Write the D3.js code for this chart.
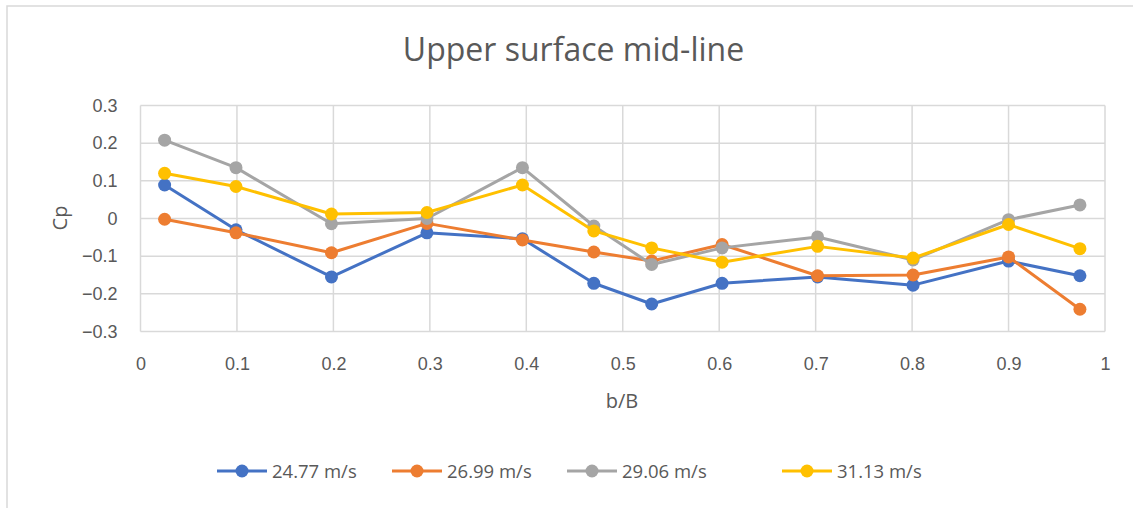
<!DOCTYPE html>
<html>
<head>
<meta charset="utf-8">
<script src="https://cdn.jsdelivr.net/npm/d3@7"></script>
<style>
  body { margin: 0; background: #fff; }
  svg { display: block; font-family: "Open Sans", "Noto Sans", sans-serif; }
  .grid line { stroke: #d9d9d9; stroke-width: 1.5; }
  .tick text { fill: #595959; font-size: 18px; }
</style>
</head>
<body>
<svg width="1133" height="508"></svg>
<script>
// chart data
let positions = [0.025, 0.099, 0.198, 0.297, 0.396, 0.47, 0.53, 0.603, 0.702, 0.801, 0.9, 0.974];
let seriesNames = ["24.77 m/s", "26.99 m/s", "29.06 m/s", "31.13 m/s"];
let seriesColors = ["#4472c4", "#ed7d31", "#a5a5a5", "#ffc000"];
let cp2477 = [0.089, -0.030, -0.155, -0.038, -0.054, -0.172, -0.227, -0.172, -0.155, -0.177, -0.113, -0.152];
let cp2699 = [-0.002, -0.038, -0.091, -0.013, -0.057, -0.089, -0.113, -0.069, -0.152, -0.150, -0.102, -0.241];
let cp2906 = [0.208, 0.135, -0.014, 0.000, 0.135, -0.020, -0.122, -0.078, -0.049, -0.110, -0.003, 0.036];
let cp3113 = [0.120, 0.085, 0.012, 0.016, 0.089, -0.033, -0.078, -0.116, -0.074, -0.105, -0.016, -0.080];
let xTicks = [0, 0.1, 0.2, 0.3, 0.4, 0.5, 0.6, 0.7, 0.8, 0.9, 1];
let yTicks = [-0.3, -0.2, -0.1, 0, 0.1, 0.2, 0.3];

let allSeries = [cp2477, cp2699, cp2906, cp3113].map(function(vals, i) {
  return {
    name: seriesNames[i],
    color: seriesColors[i],
    points: vals.map(function(v, j) { return { x: positions[j], y: v }; })
  };
});

let svg = d3.select("svg");

// outer chart frame (right/bottom edges run off the picture)
svg.append("rect")
  .attr("x", 7).attr("y", 6)
  .attr("width", 1140).attr("height", 520)
  .attr("fill", "none")
  .attr("stroke", "#d9d9d9")
  .attr("stroke-width", 1.5);

let margin = { top: 105.5, left: 140.5 };
let plotWidth = 1105 - margin.left;
let plotHeight = 331.5 - margin.top;

let x = d3.scaleLinear().domain([0, 1]).range([0, plotWidth]);
let y = d3.scaleLinear().domain([-0.3, 0.3]).range([plotHeight, 0]);

let plot = svg.append("g")
  .attr("transform", "translate(" + margin.left + "," + margin.top + ")");

// gridlines
let grid = plot.append("g").attr("class", "grid");
grid.selectAll("line.h").data(yTicks).enter().append("line")
  .attr("class", "h")
  .attr("x1", 0).attr("x2", plotWidth)
  .attr("y1", function(d) { return y(d); })
  .attr("y2", function(d) { return y(d); });
grid.selectAll("line.v").data(xTicks).enter().append("line")
  .attr("class", "v")
  .attr("y1", 0).attr("y2", plotHeight)
  .attr("x1", function(d) { return x(d); })
  .attr("x2", function(d) { return x(d); });

// axes, only used for the labels
let fmt = function(d) { return d3.format("")(+d.toFixed(1)); };
let xAxis = d3.axisBottom(x).tickValues(xTicks).tickSize(0).tickPadding(25).tickFormat(fmt);
let yAxis = d3.axisLeft(y).tickValues(yTicks).tickSize(0).tickPadding(23).tickFormat(fmt);

plot.append("g")
  .attr("transform", "translate(0," + plotHeight + ")")
  .call(xAxis)
  .call(function(g) {
    g.select(".domain").remove();
    g.selectAll("text").attr("dy", null).attr("y", 38.5);
  });
plot.append("g")
  .call(yAxis)
  .call(function(g) { g.select(".domain").remove(); });

// lines and markers
let line = d3.line()
  .x(function(d) { return x(d.x); })
  .y(function(d) { return y(d.y); });

let groups = plot.selectAll("g.series").data(allSeries).enter().append("g")
  .attr("class", "series");

groups.append("path")
  .attr("d", function(d) { return line(d.points); })
  .attr("fill", "none")
  .attr("stroke", function(d) { return d.color; })
  .attr("stroke-width", 3)
  .attr("stroke-linejoin", "round");

groups.each(function(s) {
  d3.select(this).selectAll("circle").data(s.points).enter().append("circle")
    .attr("cx", function(d) { return x(d.x); })
    .attr("cy", function(d) { return y(d.y); })
    .attr("r", 6.5)
    .attr("fill", s.color);
});

// titles
svg.append("text")
  .attr("x", 573.5).attr("y", 61)
  .attr("text-anchor", "middle")
  .attr("fill", "#595959")
  .style("font-size", "32px")
  .text("Upper surface mid-line");

svg.append("text")
  .attr("transform", "translate(67,218) rotate(-90)")
  .attr("text-anchor", "middle")
  .attr("fill", "#595959")
  .style("font-size", "20px")
  .text("Cp");

svg.append("text")
  .attr("x", 622).attr("y", 408)
  .attr("text-anchor", "middle")
  .attr("fill", "#595959")
  .style("font-size", "20px")
  .text("b/B");

// legend
let legendX = [217, 392, 567, 782];
let legend = svg.selectAll("g.legend").data(allSeries).enter().append("g")
  .attr("class", "legend")
  .attr("transform", function(d, i) { return "translate(" + legendX[i] + ",471)"; });
legend.append("line")
  .attr("x1", 0).attr("x2", 50)
  .attr("stroke", function(d) { return d.color; })
  .attr("stroke-width", 3);
legend.append("circle")
  .attr("cx", 25).attr("r", 6.5)
  .attr("fill", function(d) { return d.color; });
legend.append("text")
  .attr("x", 55).attr("y", 7)
  .attr("fill", "#595959")
  .style("font-size", "18.5px")
  .text(function(d) { return d.name; });
</script>
</body>
</html>
